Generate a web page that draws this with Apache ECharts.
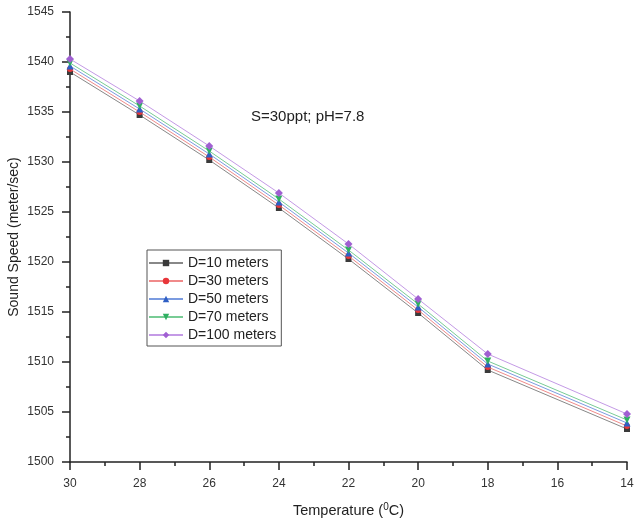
<!DOCTYPE html>
<html>
<head>
<meta charset="utf-8">
<script src="https://cdn.jsdelivr.net/npm/echarts@6/dist/echarts.min.js"></script>
<style>html,body{margin:0;padding:0;background:#fff}#c{width:634px;height:521px}</style>
</head>
<body>
<div id="c"></div>
<script>
var temperatures = [30, 28, 26, 24, 22, 20, 18, 14];
var d10 = [1539.0, 1534.7, 1530.2, 1525.4, 1520.3, 1514.9, 1509.2, 1503.3];
var d30 = [1539.3, 1535.0, 1530.5, 1525.7, 1520.6, 1515.2, 1509.5, 1503.6];
var d50 = [1539.6, 1535.3, 1530.8, 1526.0, 1520.9, 1515.5, 1509.8, 1503.9];
var d70 = [1539.9, 1535.6, 1531.1, 1526.3, 1521.2, 1515.8, 1510.1, 1504.2];
var d100 = [1540.3, 1536.1, 1531.6, 1526.9, 1521.8, 1516.3, 1510.8, 1504.8];
var seriesNames = ['D=10 meters', 'D=30 meters', 'D=50 meters', 'D=70 meters', 'D=100 meters'];
var seriesData = [d10, d30, d50, d70, d100];
var markerColors = ['#3a3a3a', '#e8363a', '#2f5fc4', '#2fb062', '#a05fd2'];
var lineColors = ['#888888', '#f08a8a', '#7b9be0', '#78cc95', '#c49ae6'];
var symbols = ['rect', 'circle', 'triangle', 'path://M0,0 L10,0 L5,9 Z', 'diamond'];
var symbolSizes = [6, 6, 7, 7, 8];

var chart = echarts.init(document.getElementById('c'));
var series = seriesNames.map(function (n, i) {
  return {
    name: n,
    type: 'line',
    data: temperatures.map(function (t, j) { return [t, seriesData[i][j]]; }),
    symbol: symbols[i],
    symbolSize: symbolSizes[i],
    showAllSymbol: true,
    itemStyle: { color: markerColors[i] },
    lineStyle: { color: lineColors[i], width: 1 },
    emphasis: { disabled: true },
    z: 2 + i
  };
});

chart.setOption({
  animation: false,
  backgroundColor: '#fff',
  textStyle: { fontFamily: 'Liberation Sans, Arial, sans-serif' },
  grid: { left: 70, right: 7, top: 12, bottom: 59, containLabel: false, outerBoundsMode: 'none' },
  xAxis: {
    type: 'value',
    inverse: true,
    min: 14, max: 30, interval: 2,
    name: '{n|Temperature (}{s|0}{n|C)}',
    nameLocation: 'middle',
    nameGap: 40,
    nameMoveOverlap: false,
    nameTextStyle: {
      rich: {
        n: { fontSize: 14.5, color: '#222', fontFamily: 'Liberation Sans' },
        s: { fontSize: 10, color: '#222', verticalAlign: 'top', padding: [0, 0, 8, 0], fontFamily: 'Liberation Sans' }
      }
    },
    axisLine: { show: true, lineStyle: { color: '#222', width: 1.5 } },
    axisTick: { show: true, inside: false, length: 8, lineStyle: { color: '#222', width: 1.5 } },
    minorTick: { show: true, splitNumber: 2, length: 4, lineStyle: { color: '#222', width: 1.5 } },
    axisLabel: { color: '#333', fontSize: 12, margin: 16 },
    splitLine: { show: false }
  },
  yAxis: {
    type: 'value',
    min: 1500, max: 1545, interval: 5,
    name: 'Sound Speed (meter/sec)',
    nameLocation: 'middle',
    nameGap: 49,
    nameMoveOverlap: false,
    nameTextStyle: { fontSize: 14, color: '#222' },
    axisLine: { show: true, lineStyle: { color: '#222', width: 1.5 } },
    axisTick: { show: true, inside: false, length: 8, lineStyle: { color: '#222', width: 1.5 } },
    minorTick: { show: true, splitNumber: 2, length: 4, lineStyle: { color: '#222', width: 1.5 } },
    axisLabel: { color: '#333', fontSize: 12, margin: 16, formatter: function (v) { return String(v); } },
    splitLine: { show: false }
  },
  legend: {
    orient: 'vertical',
    left: 147, top: 250,
    itemWidth: 34, itemHeight: 8, itemGap: 4,
    padding: [6, 5, 4, 1],
    borderColor: '#555', borderWidth: 1,
    textStyle: { fontSize: 14, color: '#222', padding: [0, 0, 0, 0] },
    data: seriesNames
  },
  graphic: [{
    type: 'text', left: 251, top: 109,
    style: { text: 'S=30ppt; pH=7.8', fontSize: 15, fill: '#222', fontFamily: 'Liberation Sans' }
  }],
  series: series
});
</script>
</body>
</html>
